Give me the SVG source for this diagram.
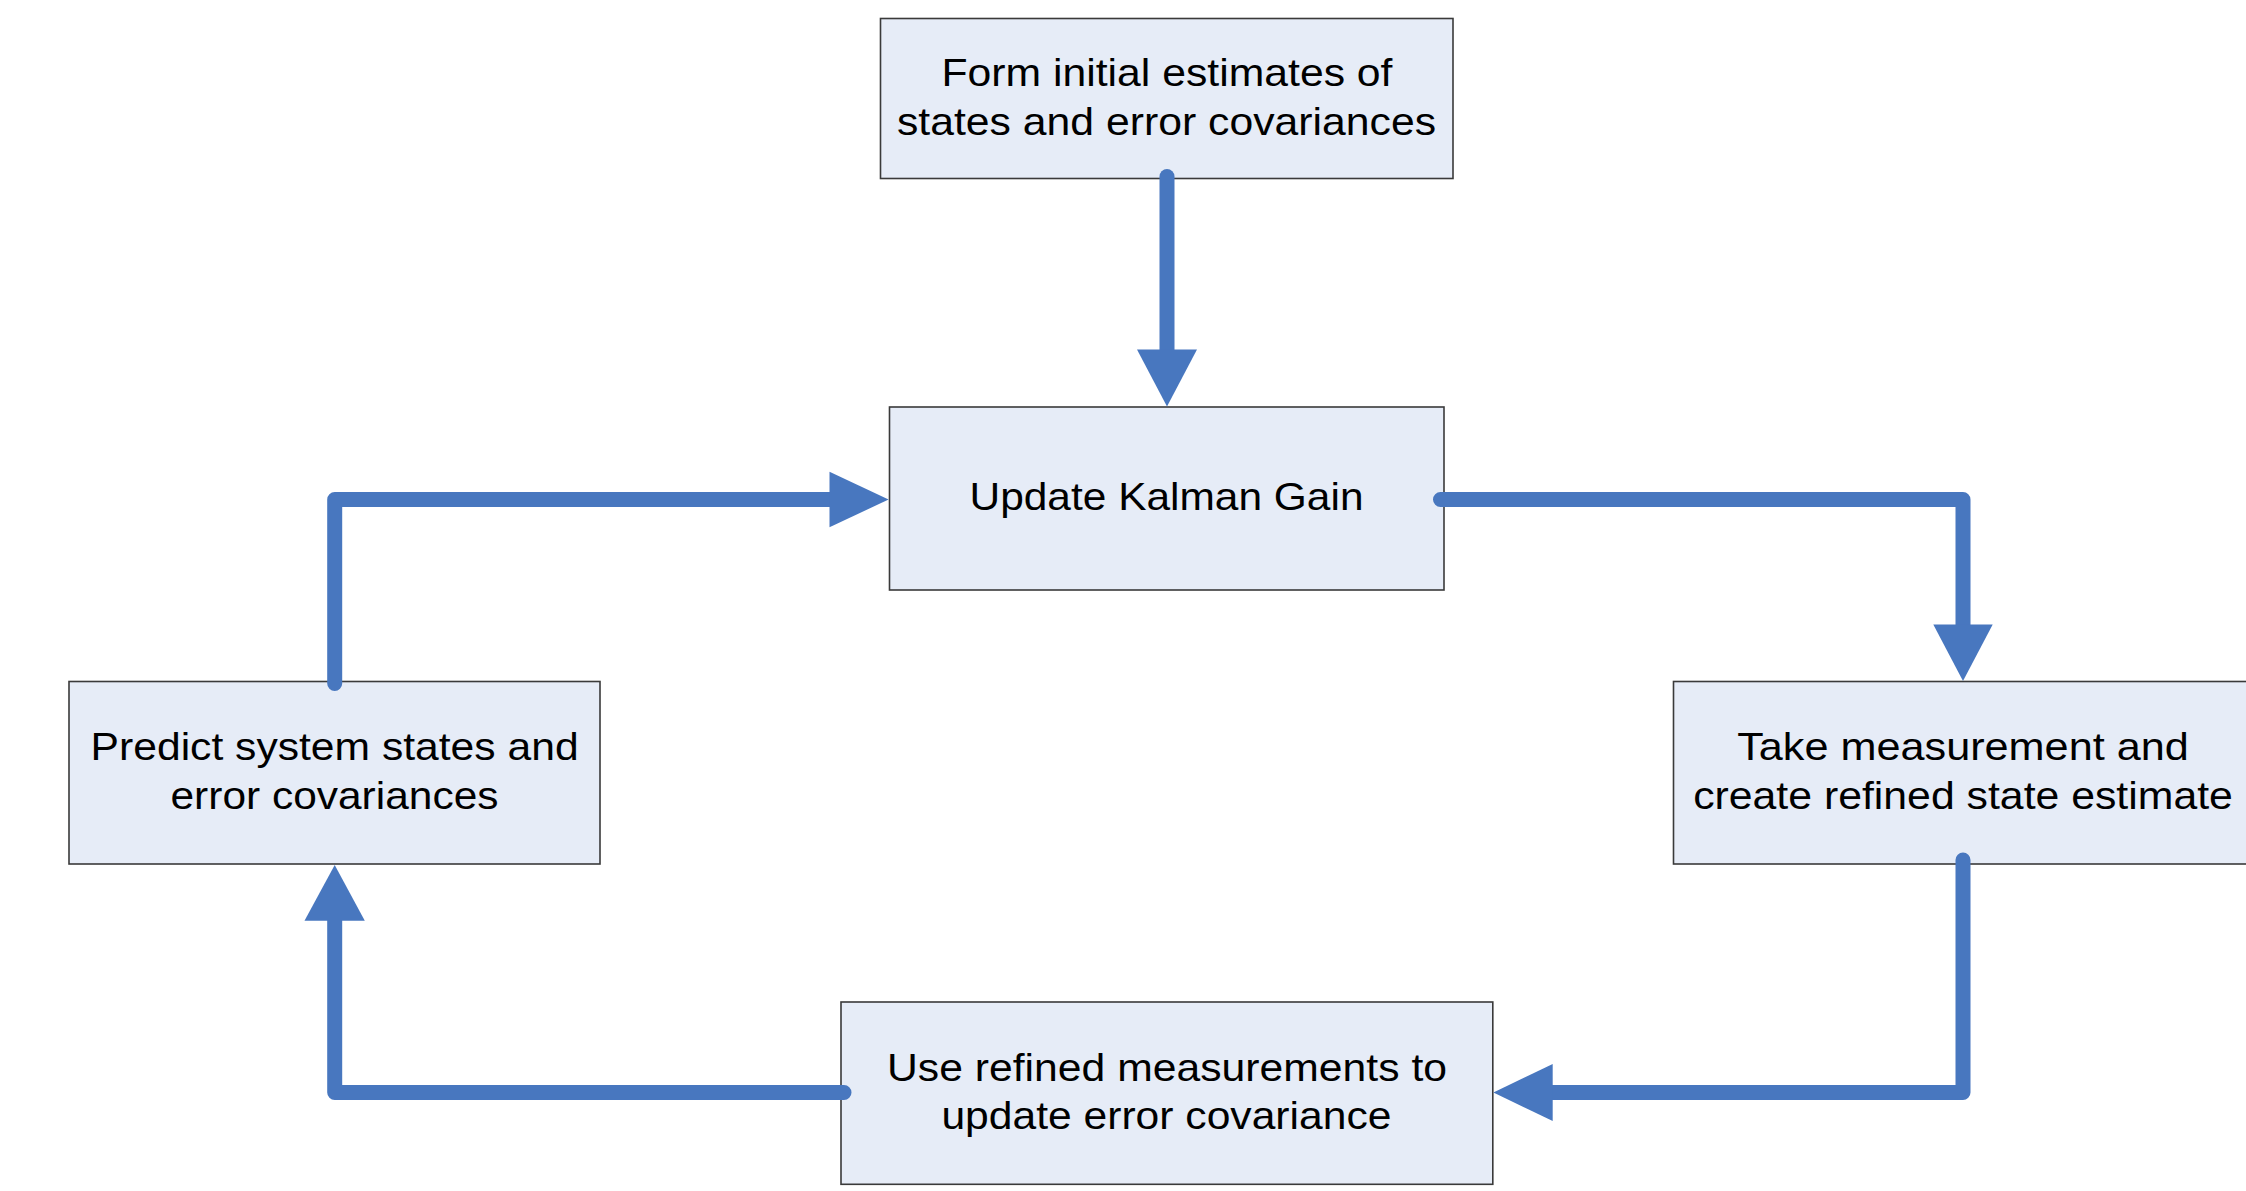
<svg xmlns="http://www.w3.org/2000/svg" width="2246" height="1191" viewBox="0 0 2246 1191">
<style>
.box{fill:#E6ECF7;stroke:#3a3a3a;stroke-width:1.6}
.lbl{font-family:"Liberation Sans",Arial,sans-serif;font-size:38.5px;fill:#000;text-anchor:middle}
.ln{fill:none;stroke:#4877BF;stroke-width:15;stroke-linecap:round;stroke-linejoin:round}
.hd{fill:#4877BF}
</style>
<rect width="2246" height="1191" fill="#fff"/>
<g id="node-init">
<rect class="box" x="880.5" y="18.5" width="572.5" height="160"/>
<text class="lbl" x="1167" y="86" textLength="451" lengthAdjust="spacingAndGlyphs">Form initial estimates of</text>
<text class="lbl" x="1166.5" y="134.5" textLength="539" lengthAdjust="spacingAndGlyphs">states and error covariances</text>
</g>
<g id="node-gain">
<rect class="box" x="889.5" y="407" width="554.5" height="183"/>
<text class="lbl" x="1166.5" y="510" textLength="394" lengthAdjust="spacingAndGlyphs">Update Kalman Gain</text>
</g>
<g id="node-predict">
<rect class="box" x="69" y="681.5" width="531" height="182.5"/>
<text class="lbl" x="334.6" y="760.4" textLength="488" lengthAdjust="spacingAndGlyphs">Predict system states and</text>
<text class="lbl" x="334.5" y="809.4" textLength="328" lengthAdjust="spacingAndGlyphs">error covariances</text>
</g>
<g id="node-measure">
<rect class="box" x="1673.5" y="681.5" width="590" height="182.5"/>
<text class="lbl" x="1963" y="760.4" textLength="451.7" lengthAdjust="spacingAndGlyphs">Take measurement and</text>
<text class="lbl" x="1963" y="809.4" textLength="539.7" lengthAdjust="spacingAndGlyphs">create refined state estimate</text>
</g>
<g id="node-update">
<rect class="box" x="841" y="1002" width="651.8" height="182.3"/>
<text class="lbl" x="1167" y="1081" textLength="560" lengthAdjust="spacingAndGlyphs">Use refined measurements to</text>
<text class="lbl" x="1166.4" y="1129.3" textLength="450" lengthAdjust="spacingAndGlyphs">update error covariance</text>
</g>
<g id="connectors">
<path class="ln" d="M1167,176.5 V352"/>
<polygon class="hd" points="1137,349.6 1197,349.6 1167,406.5"/>
<path class="ln" d="M334.7,683.5 V499.5 H832"/>
<polygon class="hd" points="829.5,471.7 829.5,527.3 888.6,499.5"/>
<path class="ln" d="M1440.5,499.5 H1963 V627"/>
<polygon class="hd" points="1933.3,624.5 1992.7,624.5 1963,681"/>
<path class="ln" d="M1963,860 V1092.5 H1550"/>
<polygon class="hd" points="1552.7,1064 1552.7,1121 1493.4,1092.5"/>
<path class="ln" d="M844,1092.5 H334.7 V918"/>
<polygon class="hd" points="304.5,920.8 364.8,920.8 334.7,865"/>
</g>
</svg>
